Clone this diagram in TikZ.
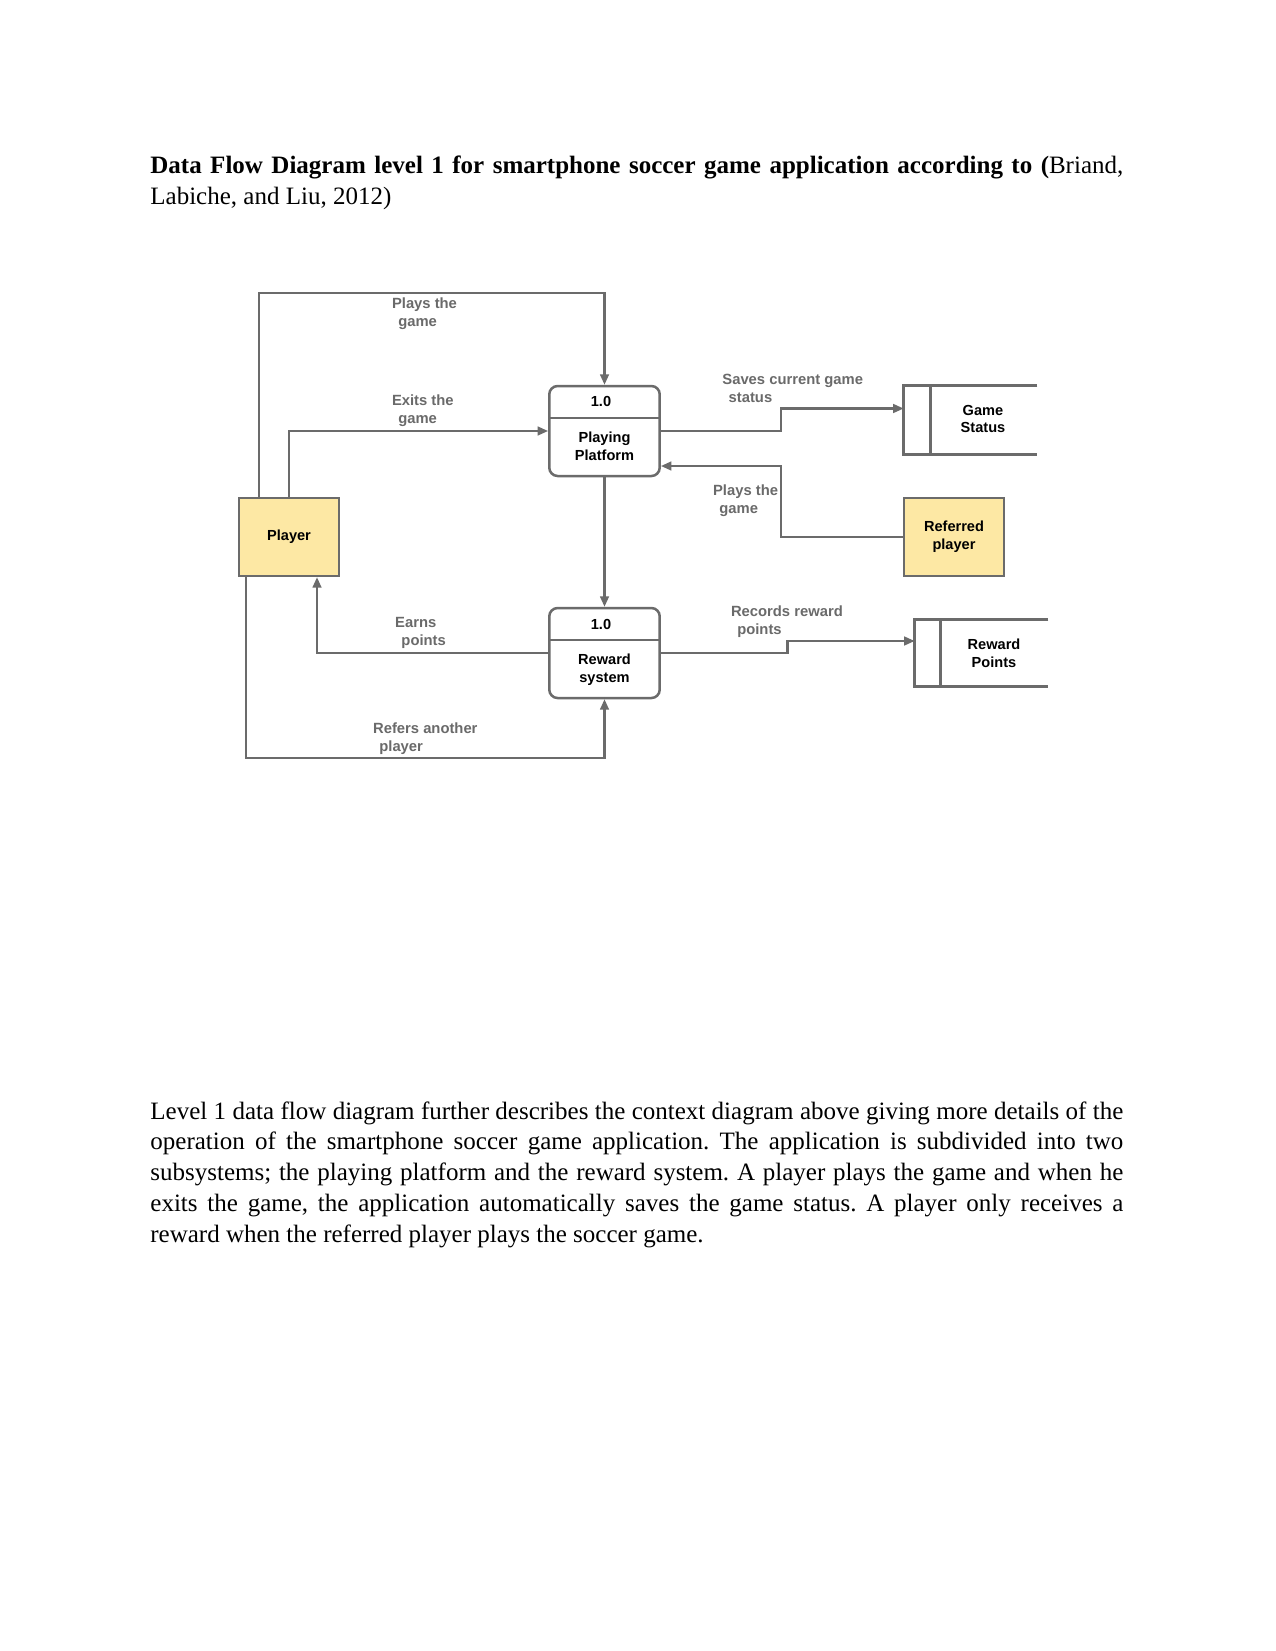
\documentclass[tikz,border=0pt]{standalone}
\usepackage{fontspec}
\setmainfont{Liberation Serif}
\newfontfamily\lucidsans{Liberation Sans}
\usetikzlibrary{arrows.meta}
\frenchspacing

\definecolor{linegray}{HTML}{6B6B6B}
\definecolor{labelgray}{HTML}{6A6A6A}
\definecolor{entityfill}{HTML}{FDE8A4}

\newcommand{\boxfont}{\lucidsans\bfseries\fontsize{7}{8.6}\selectfont}
\newcommand{\labelfont}{\lucidsans\bfseries\fontsize{7.1}{8.6}\selectfont}
\newcommand{\bodyfont}{\fontsize{12}{14.8}\selectfont}
\newcommand{\lblind}{\hspace*{3pt}}

\tikzset{
    entity/.style={draw=linegray, line width=1.2pt, fill=entityfill, minimum width=48pt,
        minimum height=37.44pt, inner sep=0pt, font=\boxfont, align=center},
    process/.style={draw=linegray, line width=1.2pt, rounded corners=4pt, minimum width=53pt,
        minimum height=43.2pt, inner sep=0pt},
    store/.style={minimum width=63.84pt, minimum height=32.64pt, inner sep=0pt},
    boxtext/.style={font=\boxfont, align=center, inner sep=0pt},
    flowlabel/.style={font=\labelfont, text=labelgray, align=left, inner sep=0pt, anchor=west},
    flow/.style={draw=linegray, line width=1pt, -{Triangle[length=5pt,width=4.2pt]}},
    storeline/.style={draw=linegray, line width=1.2pt},
    textline/.style={anchor=base west, inner sep=0pt, font=\bodyfont}
}

\begin{document}
\begin{tikzpicture}[x=0.48pt, y=-0.48pt]
    \fill[white] (0,0) rectangle (1275,1651);
    \useasboundingbox (0,0) rectangle (1275,1651);

    % caption above the diagram
    \node[textline] (title1) at (150,174) {\makebox[467pt][s]{\textbf{Data Flow Diagram level 1 for smartphone soccer game application according to (}Briand,}};
    \node[textline] (title2) at (150,205) {Labiche, and Liu, 2012)};

    % external entities
    \node[entity] (player) at (289,537) {Player};
    \node[entity] (refplayer) at (954,537) {Referred\\player};

    % processes
    \node[process] (pp) at (604.5,431) {};
    \draw[storeline] ([yshift=-15.84pt]pp.north west) -- ([yshift=-15.84pt]pp.north east);
    \node[boxtext] (ppnum) at (601,401) {1.0};
    \node[boxtext] (pptext) at (604.5,446) {Playing\\Platform};

    \node[process] (rs) at (604.5,653) {};
    \draw[storeline] ([yshift=-15.84pt]rs.north west) -- ([yshift=-15.84pt]rs.north east);
    \node[boxtext] (rsnum) at (601,624) {1.0};
    \node[boxtext] (rstext) at (604.5,670) {Reward\\system};

    % data stores
    \node[store] (gs) at (970.5,420) {};
    \draw[storeline] (gs.north east) -- (gs.north west) -- (gs.south west) -- (gs.south east);
    \draw[storeline] ([xshift=12.96pt]gs.north west) -- ([xshift=12.96pt]gs.south west);
    \node[boxtext] (gstext) at (983,419) {Game\\Status};

    \node[store, minimum height=31.68pt] (rwp) at (981.5,653) {};
    \draw[storeline] (rwp.north east) -- (rwp.north west) -- (rwp.south west) -- (rwp.south east);
    \draw[storeline] ([xshift=12.5pt]rwp.north west) -- ([xshift=12.5pt]rwp.south west);
    \node[boxtext] (rwptext) at (994,653) {Reward\\Points};

    % bend points
    \coordinate (playtop) at (259,293);
    \coordinate (savesbend) at (781,408.5);
    \coordinate (rpbend) at (781,466);
    \coordinate (earnsx) at (317,0);
    \coordinate (refbend) at (246,758);
    \coordinate (recbend) at (787.5,641);

    % data flows
    \draw[flow] (player.north -| playtop) -- (playtop) -| (pp.north);
    \draw[flow] (player.north) |- (pp.west);
    \draw[flow] (pp.east) -| (savesbend) -- (savesbend -| gs.west);
    \draw[flow] (refplayer.west) -| (rpbend) -- (rpbend -| pp.east);
    \draw[flow] (pp.south) -- (rs.north);
    \draw[flow] (rs.west) -| (player.south -| earnsx);
    \draw[flow] (player.south -| refbend) -- (refbend) -| (rs.south);
    \draw[flow] (rs.east) -| (recbend) -- (recbend -| rwp.west);

    % flow labels
    \node[flowlabel] (lplays) at (391.6,314) {Plays the\\\lblind game};
    \node[flowlabel] (lexits) at (391.6,411) {Exits the\\\lblind game};
    \node[flowlabel] (lsaves) at (722,388) {Saves current game\\\lblind status};
    \node[flowlabel] (lrplays) at (712.7,500.5) {Plays the\\\lblind game};
    \node[flowlabel] (learns) at (394.8,633) {Earns\\\lblind points};
    \node[flowlabel] (lrefers) at (372.7,738.5) {Refers another\\\lblind player};
    \node[flowlabel] (lrecords) at (730.6,621.5) {Records reward\\\lblind points};

    % paragraph below the diagram
    \node[textline] (body1) at (150,1119) {\makebox[467pt][s]{Level 1 data flow diagram further describes the context diagram above giving more details of the}};
    \node[textline] (body2) at (150,1149.8) {\makebox[467pt][s]{operation of the smartphone soccer game application. The application is subdivided into two}};
    \node[textline] (body3) at (150,1180.6) {\makebox[467pt][s]{subsystems; the playing platform and the reward system. A player plays the game and when he}};
    \node[textline] (body4) at (150,1211.4) {\makebox[467pt][s]{exits the game, the application automatically saves the game status. A player only receives a}};
    \node[textline] (body5) at (150,1242.2) {reward when the referred player plays the soccer game.};
\end{tikzpicture}
\end{document}
